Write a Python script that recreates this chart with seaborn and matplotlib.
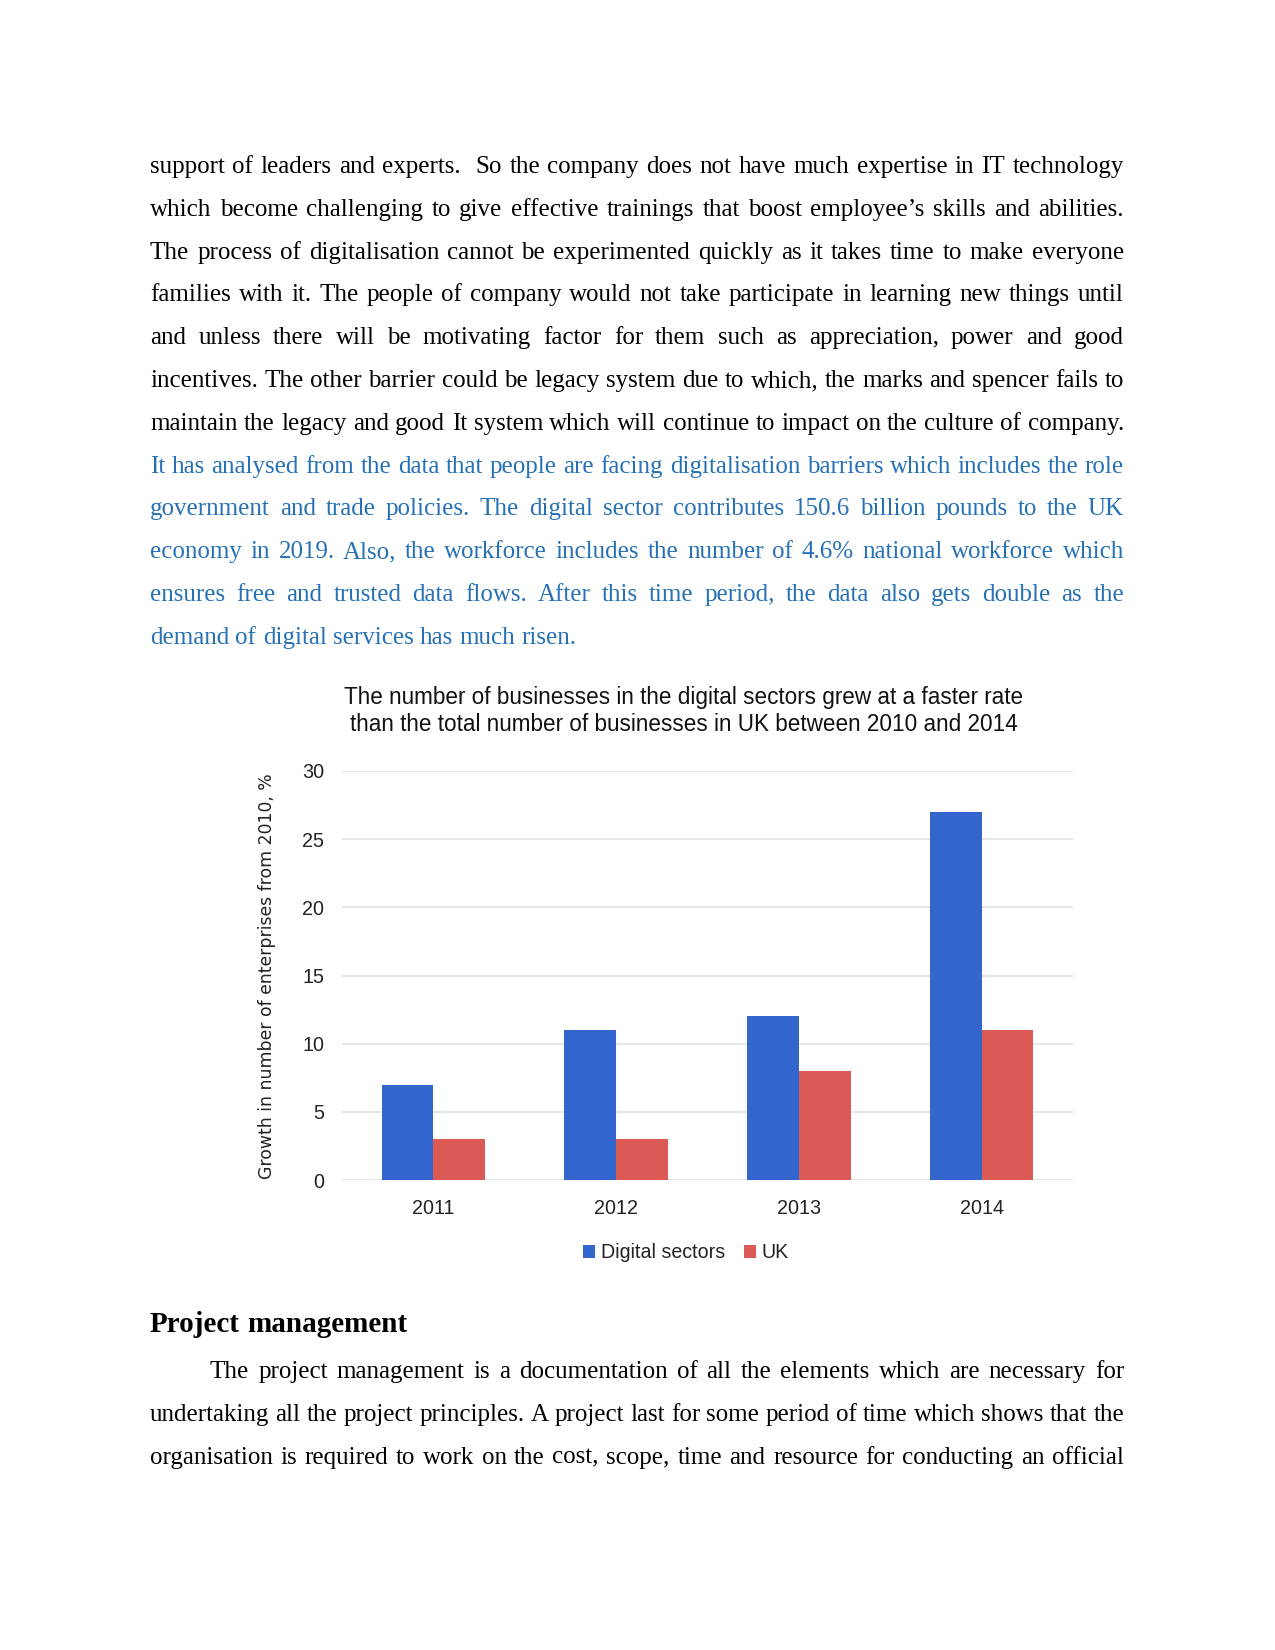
import numpy as np
import pandas as pd
import matplotlib
matplotlib.use('Agg')
import matplotlib.pyplot as plt
import seaborn as sns

# данные графика
years = ['2011', '2012', '2013', '2014']
digital = [7, 11, 12, 27]
uk = [3, 3, 8, 11]
series = ['Digital sectors', 'UK']
colors = ['#3366CC', '#DC5A55']
y_ticks = [0, 5, 10, 15, 20, 25, 30]

chart_title = ('The number of businesses in the digital sectors grew at a faster rate\n'
               'than the total number of businesses in UK between 2010 and 2014')
y_label = 'Growth in number of enterprises from 2010, %'

# текст страницы
black_lines = [
    'support of leaders and experts.  So the company does not have much expertise in IT technology',
    'which become challenging to give effective trainings that boost employee\u2019s skills and abilities.',
    'The process of digitalisation cannot be experimented quickly as it takes time to make everyone',
    'families with it. The people of company would not take participate in learning new things until',
    'and unless there will be motivating factor for them such as appreciation, power and good',
    'incentives. The other barrier could be legacy system due to which, the marks and spencer fails to',
    'maintain the legacy and good It system which will continue to impact on the culture of company.',
]
blue_lines = [
    'It has analysed from the data that people are facing digitalisation barriers which includes the role',
    'government and trade policies. The digital sector contributes 150.6 billion pounds to the UK',
    'economy in 2019. Also, the workforce includes the number of 4.6% national workforce which',
    'ensures free and trusted data flows. After this time period, the data also gets double as the',
    'demand of digital services has much risen.',
]
heading = 'Project management'
para_lines = [
    'The project management is a documentation of all the elements which are necessary for',
    'undertaking all the project principles. A project last for some period of time which shows that the',
    'organisation is required to work on the cost, scope, time and resource for conducting an official',
]

W, H = 1275, 1650
DPI = 150
LEFT, RIGHT = 150, 1124
STEP = 42.8
TEXT_BLUE = '#2671B6'

sns.set_style('white')
plt.rcParams['font.family'] = ['Liberation Sans', 'DejaVu Sans']

fig = plt.figure(figsize=(W / DPI, H / DPI), dpi=DPI)
renderer = fig.canvas.get_renderer()


def put_line(text, y, x0=LEFT, color='black', justify=True, size=12, weight='normal'):
    # выравнивание по ширине: слова по отдельности, промежутки растягиваем
    words = text.split(' ')
    objs = [fig.text(0, 1 - y / H, w, fontsize=size, family=['Liberation Serif'],
                     color=color, weight=weight, va='baseline', ha='left') for w in words]
    widths = [o.get_window_extent(renderer).width if o.get_text() else 0 for o in objs]
    if justify and len(words) > 1:
        gap = (RIGHT - x0 - sum(widths)) / (len(words) - 1)
    else:
        gap = size * DPI / 72 * 0.25
    x = x0
    for o, w in zip(objs, widths):
        o.set_x(x / W)
        x += w + gap


y = 173
for line in black_lines:
    put_line(line, y)
    y += STEP
for i, line in enumerate(blue_lines):
    put_line(line, y, color=TEXT_BLUE, justify=(i < len(blue_lines) - 1))
    y += STEP

put_line(heading, 1332, justify=False, size=14, weight='bold')
y = 1378
for i, line in enumerate(para_lines):
    put_line(line, y, x0=210 if i == 0 else LEFT)
    y += STEP

# график
df = pd.DataFrame({
    'year': years * 2,
    'series': [series[0]] * len(years) + [series[1]] * len(years),
    'value': digital + uk,
})

ax = fig.add_axes([342 / W, 1 - 1180 / H, 731 / W, 409 / H])
sns.barplot(data=df, x='year', y='value', hue='series', palette=colors,
            width=0.567, gap=0, saturation=1, errorbar=None, linewidth=0, ax=ax)

ax.set_xlim(-0.5, 3.5)
ax.set_ylim(0, 30)
ax.set_yticks(y_ticks)
ax.set_axisbelow(True)
ax.yaxis.grid(True, color='#E2E2E2', lw=0.8)
ax.xaxis.grid(False)
sns.despine(ax=ax, left=True, bottom=True)
ax.tick_params(length=0, labelsize=9.5, colors='#222222')
ax.tick_params(axis='y', pad=8.5)
ax.tick_params(axis='x', pad=9)
ax.set_xlabel('')
ax.set_ylabel('')

handles, labels = ax.get_legend_handles_labels()
ax.legend_.remove()
fig.legend(handles, labels, loc='center', bbox_to_anchor=(686 / W, 1 - 1253 / H),
           ncol=2, frameon=False, fontsize=9.4, handlelength=0.6, handleheight=0.6,
           handletextpad=0.3, columnspacing=1.0, labelcolor='#222222')

fig.text(684 / W, 1 - 711 / H, chart_title, ha='center', va='center',
         fontsize=10.8, linespacing=1.2, color='#111111')
fig.text(267 / W, 1 - 976 / H, y_label, rotation=90, ha='center', va='center',
         fontsize=8.3, family='DejaVu Sans', color='#222222')

fig.savefig('out.png', dpi=DPI)
